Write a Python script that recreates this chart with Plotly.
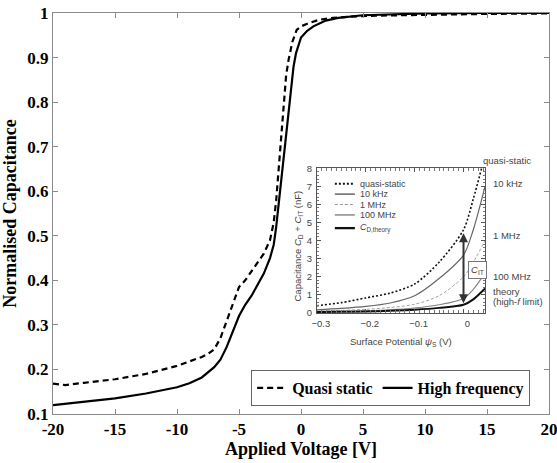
import plotly.graph_objects as go

# ---------------- main chart data ----------------
hf_v = [-20, -17.5, -15, -12.5, -10, -9, -8, -7, -6.5, -6, -5.5, -5, -4.5, -4, -3.5, -3, -2.5,
        -2.2, -2.0, -1.8, -1.6, -1.4, -1.2, -1.0, -0.8, -0.6, -0.4, -0.2, 0, 0.5, 1, 2, 3, 5, 7, 10, 15, 20]
hf_c = [0.120, 0.127, 0.135, 0.146, 0.160, 0.169, 0.182, 0.205, 0.222, 0.250, 0.285, 0.320, 0.345,
        0.365, 0.390, 0.415, 0.450, 0.480, 0.520, 0.570, 0.620, 0.670, 0.720, 0.780, 0.835, 0.880,
        0.910, 0.930, 0.945, 0.960, 0.970, 0.983, 0.989, 0.995, 0.997, 0.999, 1.000, 1.000]

qs_v = [-20, -19, -17.5, -15, -12.5, -11.5, -10, -9, -8, -7.5, -7, -6.5, -6, -5.5, -5, -4.5, -4,
        -3.5, -3, -2.5, -2.2, -2.0, -1.8, -1.6, -1.4, -1.2, -1.0, -0.7, -0.35, 0, 0.7, 1.5, 2.6, 4,
        6, 8, 10, 12, 15, 20]
qs_c = [0.168, 0.165, 0.170, 0.178, 0.190, 0.197, 0.208, 0.218, 0.228, 0.235, 0.245, 0.270, 0.310,
        0.350, 0.385, 0.400, 0.420, 0.440, 0.460, 0.490, 0.530, 0.580, 0.650, 0.730, 0.810, 0.860,
        0.895, 0.935, 0.962, 0.970, 0.978, 0.985, 0.989, 0.992, 0.994, 0.995, 0.996, 0.997, 0.998, 0.999]

x_ticks = [-20, -15, -10, -5, 0, 5, 10, 15, 20]
x_tick_text = ["-20", "-15", "-10", "-5", "0", "5", "10", "15", "20"]
y_ticks = [0.1, 0.2, 0.3, 0.4, 0.5, 0.6, 0.7, 0.8, 0.9, 1.0]
y_tick_text = ["0.1", "0.2", "0.3", "0.4", "0.5", "0.6", "0.7", "0.8", "0.9", "1"]

# ---------------- inset data ----------------
psi = [-0.3, -0.25, -0.2, -0.15, -0.1, -0.05, 0, 0.02, 0.044]
psi_qs = [-0.3, -0.25, -0.2, -0.15, -0.1, -0.05, 0, 0.02, 0.037]
c_qs = [0.40, 0.57, 0.83, 1.10, 1.60, 2.80, 4.60, 6.30, 8.00]
c_10k = [0.17, 0.25, 0.36, 0.55, 0.95, 1.90, 3.20, 4.60, 7.00]
c_1m = [0.10, 0.14, 0.20, 0.30, 0.48, 0.95, 2.00, 2.80, 4.00]
c_100m = [0.07, 0.09, 0.12, 0.17, 0.27, 0.45, 0.80, 1.30, 2.20]
c_theory = [0.05, 0.06, 0.08, 0.12, 0.18, 0.28, 0.45, 0.75, 1.35]
cit_psi = 0.0
cit_top, cit_bottom = 4.4, 0.45

SERIF = "Liberation Serif"
SANS = "Liberation Sans"
GREY_AX = "#8a8a8a"
INK = "#444444"

fig = go.Figure()

# main traces
fig.add_trace(go.Scatter(x=qs_v, y=qs_c, mode="lines", name="Quasi static",
                         line=dict(color="black", width=2.2, dash="6px,4px")))
fig.add_trace(go.Scatter(x=hf_v, y=hf_c, mode="lines", name="High frequency",
                         line=dict(color="black", width=2.2)))

# inset traces
inset_series = [
    ("quasi-static", psi_qs, c_qs, dict(color="#111111", width=1.6, dash="2px,2px")),
    ("10 kHz", psi, c_10k, dict(color="#666666", width=1.2)),
    ("1 MHz", psi, c_1m, dict(color="#9a9a9a", width=0.9, dash="3px,2px")),
    ("100 MHz", psi, c_100m, dict(color="#808080", width=1.1)),
    ("<i>C</i><sub>D,theory</sub>", psi, c_theory, dict(color="#111111", width=2.0)),
]
for name, xs, ys, ln in inset_series:
    fig.add_trace(go.Scatter(x=xs, y=ys, mode="lines", name=name, showlegend=False,
                             line=dict(shape="spline", smoothing=0.8, **ln),
                             xaxis="x2", yaxis="y2"))

fig.update_layout(
    width=557, height=463,
    margin=dict(l=53, r=8, t=13, b=49),
    paper_bgcolor="white", plot_bgcolor="white",
    font=dict(family=SERIF, color="black"),
    xaxis=dict(range=[-20, 20], tickvals=x_ticks, ticktext=x_tick_text,
               ticks="inside", ticklen=5, tickcolor=GREY_AX, showline=True, linecolor=GREY_AX,
               linewidth=1, mirror="ticks", showgrid=False, zeroline=False, ticklabelstandoff=0,
               automargin=False, ticklabeloverflow="allow",
               tickfont=dict(family=SERIF, size=17, color="black", weight="bold"),
               title=dict(text="Applied Voltage [V]", standoff=0,
                          font=dict(family=SERIF, size=18, color="black", weight="bold"))),
    yaxis=dict(range=[0.1, 1.0], tickvals=y_ticks, ticktext=y_tick_text,
               ticks="inside", ticklen=5, tickcolor=GREY_AX, showline=True, linecolor=GREY_AX,
               linewidth=1, mirror="ticks", showgrid=False, zeroline=False, automargin=False,
               ticklabeloverflow="allow",
               tickfont=dict(family=SERIF, size=17, color="black", weight="bold"),
               title=dict(text="Normalised Capacitance", standoff=6,
                          font=dict(family=SERIF, size=18, color="black", weight="bold"))),
    xaxis2=dict(domain=[0.532, 0.871], anchor="y2", range=[-0.3, 0.044],
                tickvals=[-0.3, -0.2, -0.1, 0], ticks="inside", ticklen=4, tickcolor="#555",
                showline=True, linecolor="#555", linewidth=1, mirror="allticks",
                minor=dict(dtick=0.01, ticks="inside", ticklen=2.5, tickcolor="#777"),
                showgrid=False, zeroline=False, ticklabelshift=4, ticklabelstandoff=2,
                tickfont=dict(family=SANS, size=9.5, color=INK)),
    yaxis2=dict(domain=[0.252, 0.613], anchor="x2", range=[0, 8], dtick=1,
                ticks="inside", ticklen=4, tickcolor="#555",
                showline=True, linecolor="#555", linewidth=1, mirror="allticks",
                minor=dict(dtick=0.2, ticks="inside", ticklen=2.5, tickcolor="#777"),
                showgrid=False, zeroline=False, ticklabelstandoff=2,
                tickfont=dict(family=SANS, size=9.5, color=INK)),
    legend=dict(orientation="h", x=0.962, xanchor="right", y=0.02, yanchor="bottom",
                bgcolor="white", bordercolor="#666", borderwidth=1, itemwidth=30,
                font=dict(family=SERIF, size=16, color="black", weight="bold"),
                tracegroupgap=0),
    showlegend=True,
)

annotations = []
shapes = []

# inset axis titles
annotations.append(dict(text="Surface Potential <i>ψ</i><sub>S</sub> (V)", xref="paper", yref="paper",
                        x=0.7016, y=0.180, showarrow=False, xanchor="center", yanchor="middle",
                        font=dict(family=SANS, size=9.5, color=INK)))
annotations.append(dict(text="Capacitance <i>C</i><sub>D</sub> + <i>C</i><sub>IT</sub> (nF)",
                        xref="paper", yref="paper", x=0.493, y=0.419, textangle=-90,
                        showarrow=False, xanchor="center", yanchor="middle",
                        font=dict(family=SANS, size=9.5, color=INK)))

# inset legend (drawn manually)
legend_rows = [0.893, 0.821, 0.749, 0.677, 0.586]
for (name, xs, ys, ln), ry in zip(inset_series, legend_rows):
    shapes.append(dict(type="line", xref="x2 domain", yref="y2 domain", x0=0.107, x1=0.226,
                       y0=ry, y1=ry, line=dict(color=ln["color"], width=ln["width"] + 0.3,
                                               dash=ln.get("dash", "solid"))))
    annotations.append(dict(text=name, xref="x2 domain", yref="y2 domain", x=0.244, y=ry,
                            showarrow=False, xanchor="left", yanchor="middle",
                            font=dict(family=SANS, size=9, color=INK)))

# labels at right of inset
annotations.append(dict(text="quasi-static", xref="paper", yref="paper", x=0.863, y=0.633,
                        showarrow=False, xanchor="left", yanchor="middle",
                        font=dict(family=SANS, size=9.5, color=INK)))
right_labels = [("10 kHz", 7.18), ("1 MHz", 4.3), ("100 MHz", 2.0), ("theory", 1.2),
                ("(high-<i>f</i> limit)", 0.62)]
for txt, ly in right_labels:
    annotations.append(dict(text=txt, xref="x2 domain", yref="y2", x=1.0, y=ly, showarrow=False,
                            xanchor="left", yanchor="middle", xshift=6,
                            font=dict(family=SANS, size=9.5, color=INK)))

# C_IT double arrow
annotations.append(dict(x=cit_psi, y=cit_top, ax=cit_psi, ay=cit_bottom, xref="x2", yref="y2",
                        axref="x2", ayref="y2", text="", showarrow=True, arrowhead=2,
                        arrowside="end+start", arrowsize=0.9, arrowwidth=2, arrowcolor="#333"))
annotations.append(dict(text="<i>C</i><sub>IT</sub>", xref="x2", yref="y2", x=0.0285, y=2.38,
                        showarrow=False, bgcolor="white", bordercolor="#777", borderwidth=1,
                        borderpad=2, font=dict(family=SANS, size=9.5, color=INK)))

fig.update_layout(annotations=annotations, shapes=shapes)

fig.write_html("out.html")
